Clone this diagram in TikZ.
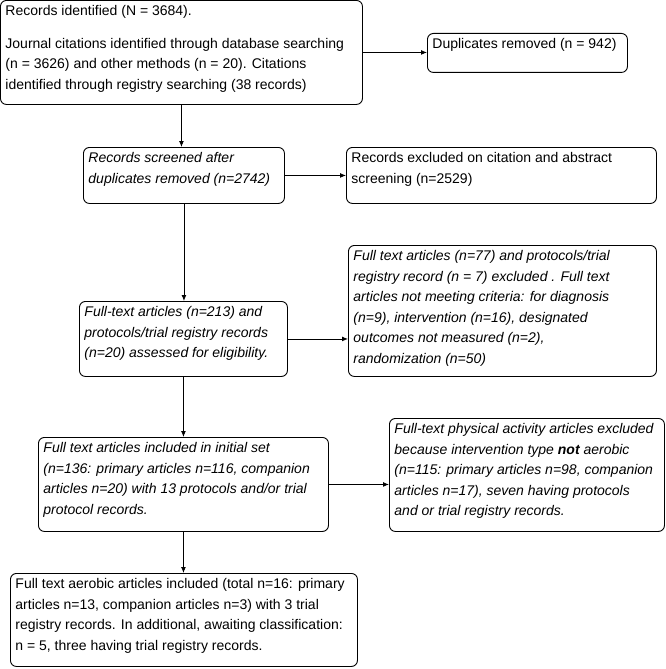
\documentclass[tikz,border=0pt]{standalone}
\usepackage{fontspec}
\setmainfont{Liberation Sans}
\usetikzlibrary{arrows.meta, positioning}

% text block of fixed size, set from the top
\newcommand{\boxtxt}[3]{\parbox[c][#2][t]{#1}{\raggedright #3}}

\begin{document}
\begin{tikzpicture}[
  x=1pt, y=-1pt,
  rec/.style={draw, line width=0.9pt, rounded corners=6pt, anchor=north west,
              inner xsep=5pt, inner ysep=5pt,
              font=\fontsize{14}{20.5}\selectfont},
  recit/.style={rec, font=\fontsize{14}{20.5}\selectfont\itshape},
  arr/.style={-{Latex[length=6pt,width=5pt]}, line width=0.9pt}
]
\useasboundingbox (0,0) rectangle (666,669);

% main column
\node[rec]   (ident)  at (0,0)   {\boxtxt{352pt}{94pt}{Records identified (N = 3684).\\[12pt]
  Journal citations identified through database searching\\
  (n = 3626) and other methods (n = 20). Citations\\
  identified through registry searching (38 records)}};
\node[recit] (screen) at (83,147) {\boxtxt{191pt}{46pt}{Records screened after\\
  duplicates removed (n=2742)}};
\node[recit] (full)   at (79,301) {\boxtxt{198pt}{65pt}{Full-text articles (n=213) and\\
  protocols/trial registry records\\
  (n=20) assessed for eligibility.}};
\node[recit] (init)   at (38,437) {\boxtxt{280pt}{84pt}{Full text articles included in initial set\\
  (n=136: primary articles n=116, companion\\
  articles n=20) with 13 protocols and/or trial\\
  protocol records.}};
\node[rec]   (incl)   at (10,573) {\boxtxt{337pt}{83pt}{Full text aerobic articles included (total n=16: primary\\
  articles n=13, companion articles n=3) with 3 trial\\
  registry records. In additional, awaiting classification:\\
  n = 5, three having trial registry records.}};

% side boxes
\node[rec]   (dup)    at (427,33)  {\boxtxt{190pt}{29pt}{Duplicates removed (n = 942)}};
\node[rec]   (excl)   at (346,147) {\boxtxt{300pt}{46pt}{Records excluded on citation and abstract\\
  screening (n=2529)}};
\node[recit] (ftex)   at (348,245) {\boxtxt{298pt}{121pt}{Full text articles (n=77) and protocols/trial\\
  registry record (n = 7) excluded . Full text\\
  articles not meeting criteria: for diagnosis\\
  (n=9), intervention (n=16), designated\\
  outcomes not measured (n=2),\\
  randomization (n=50)}};
\node[recit] (paex)   at (389,418) {\boxtxt{265pt}{103pt}{Full-text physical activity articles excluded\\
  because intervention type \textbf{not} aerobic\\
  (n=115: primary articles n=98, companion\\
  articles n=17), seven having protocols\\
  and or trial registry records.}};

% down the column
\draw[arr] (ident.south)  -- (ident.south |- screen.north);
\draw[arr] (screen.south) -- (screen.south |- full.north);
\draw[arr] (full.south)   -- (full.south |- init.north);
\draw[arr] (init.south)   -- (init.south |- incl.north);

% out to the side
\draw[arr] (ident.east)  -- (ident.east -| dup.west);
\draw[arr] (screen.east) -- (screen.east -| excl.west);
\draw[arr] (full.east)   -- (full.east -| ftex.west);
\draw[arr] (init.east)   -- (init.east -| paex.west);
\end{tikzpicture}
\end{document}
